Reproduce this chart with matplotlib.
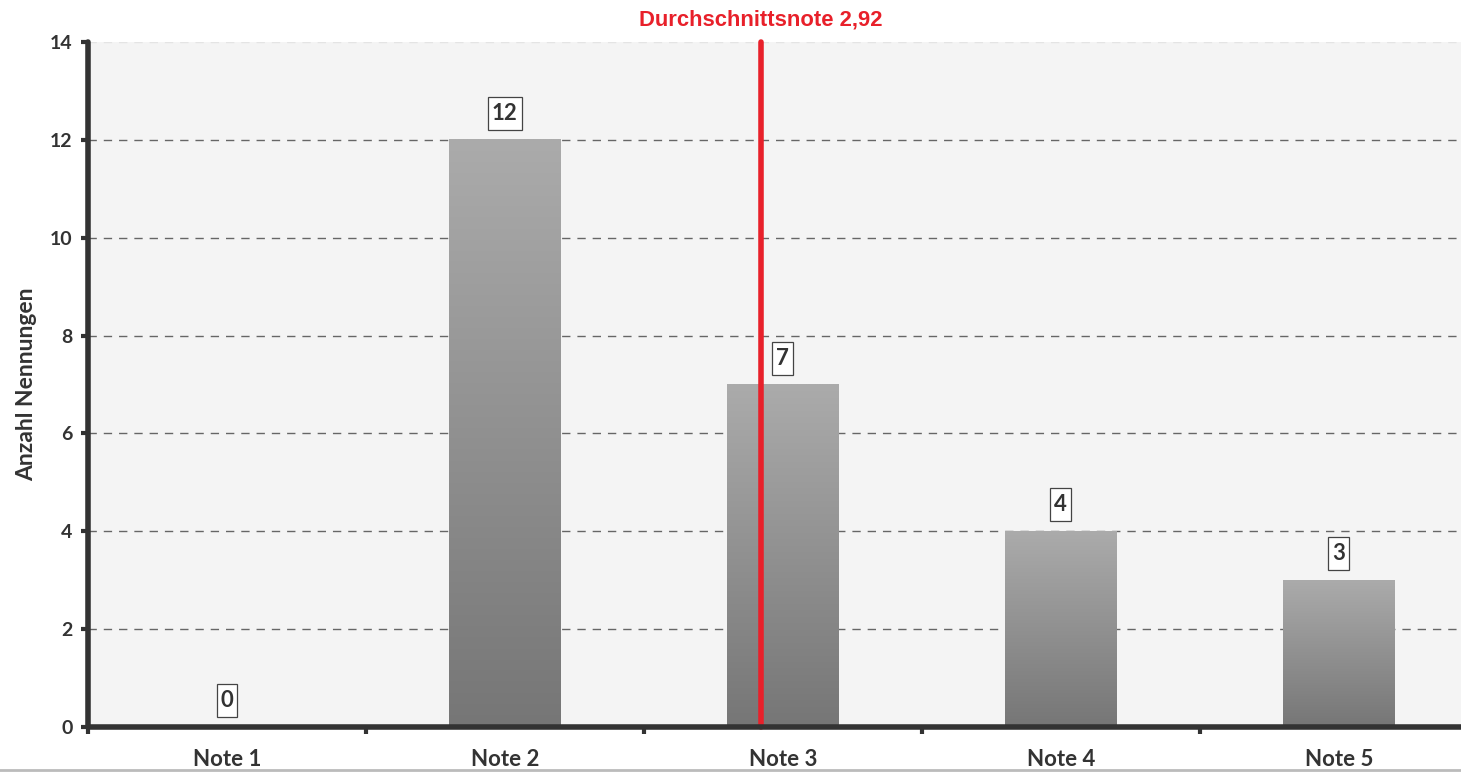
import matplotlib

matplotlib.use("Agg")
import matplotlib.pyplot as plt
import numpy as np
from matplotlib.colors import LinearSegmentedColormap
from matplotlib.patches import Rectangle

# grade distribution
categories = ["Note 1", "Note 2", "Note 3", "Note 4", "Note 5"]
counts = [0, 12, 7, 4, 3]
average = 2.92
y_ticks = [0, 2, 4, 6, 8, 10, 12, 14]

DARK = "#333333"
RED = "#e8202a"
BAR_W = 0.40
FONT = "Lato"

fig = plt.figure(figsize=(14.61, 7.72), dpi=100)
fig.patch.set_facecolor("white")
ax = fig.add_axes([0.0602, 0.0583, 0.9398, 0.8873])
ax.set_facecolor("#f4f4f4")

x = np.arange(len(categories))

# vertical grey gradient per bar (light at top, darker at bottom)
cmap = LinearSegmentedColormap.from_list("bar", ["#767676", "#ababab"])
grad = np.linspace(0, 1, 256).reshape(-1, 1)
for xi, c in zip(x, counts):
    if c <= 0:
        continue
    ax.imshow(grad, cmap=cmap, origin="lower", aspect="auto",
              extent=[xi - BAR_W / 2, xi + BAR_W / 2, 0, c], zorder=2)
ax.set_xlim(-0.5, 4.44)
ax.set_ylim(0, 14)

# dashed horizontal grid
for yv in y_ticks[1:-1]:
    ax.axhline(yv, color="#666666", lw=1.0, ls=(0, (6, 5)), zorder=1)
ax.axhline(14, color="#e4e4e4", lw=1.0, ls=(0, (6, 5)), zorder=1)

# value labels above the bars
value_texts = []
for xi, c in zip(x, counts):
    t = ax.annotate(str(c), (xi, c), xytext=(0, 19), textcoords="offset points",
                    ha="center", va="center", fontsize=16, fontweight="bold",
                    family=FONT, color=DARK, zorder=9)
    value_texts.append(t)

# average line
avg_x = average - 1
ax.plot([avg_x, avg_x], [0, 14], color=RED, lw=4, solid_capstyle="round",
        zorder=4, clip_on=False)
ax.text(avg_x, 14.45, f"Durchschnittsnote {average:.2f}".replace(".", ","),
        ha="center", va="center", color=RED, fontsize=15.8, fontweight="bold",
        family="Liberation Sans")

# axes styling
for s in ["top", "right"]:
    ax.spines[s].set_visible(False)
for s in ["left", "bottom"]:
    ax.spines[s].set_color(DARK)
    ax.spines[s].set_linewidth(4)
    ax.spines[s].set_capstyle("round")
    ax.spines[s].set_zorder(6)

ax.set_yticks(y_ticks)
ax.set_yticklabels([str(v) for v in y_ticks], fontsize=14, fontweight="bold",
                   family=FONT, color=DARK)
ax.tick_params(axis="y", length=5, width=3, color=DARK, pad=6)

ax.set_xticks(np.arange(-0.5, 4.5, 1.0))
ax.set_xticklabels([])
ax.set_xticks(x, minor=True)
ax.set_xticklabels(categories, minor=True, fontsize=16, fontweight="bold",
                   family=FONT, color=DARK)
ax.tick_params(axis="x", which="major", length=5, width=3, color=DARK, direction="out")
ax.tick_params(axis="x", which="minor", length=0, pad=15.5)

ax.set_ylabel("Anzahl Nennungen", fontsize=16.5, fontweight="bold",
              family=FONT, color=DARK, labelpad=9)

# tall narrow frames around the value labels
fig.canvas.draw()
W, H = fig.bbox.width, fig.bbox.height
for t in value_texts:
    bb = t.get_window_extent()
    cx, cy = (bb.x0 + bb.x1) / 2, (bb.y0 + bb.y1) / 2
    bw, bh = bb.width + 8, 33
    ax.add_patch(Rectangle(((cx - bw / 2) / W, (cy - bh / 2) / H), bw / W, bh / H,
                           transform=fig.transFigure, fc="white", ec="#444444",
                           lw=0.9, zorder=8, clip_on=False))

# thin grey rule along the bottom edge
fig.add_artist(plt.Line2D([0, 1], [0.003, 0.003], color="#bbbbbb", lw=2))

fig.savefig("out.png", dpi=100)
